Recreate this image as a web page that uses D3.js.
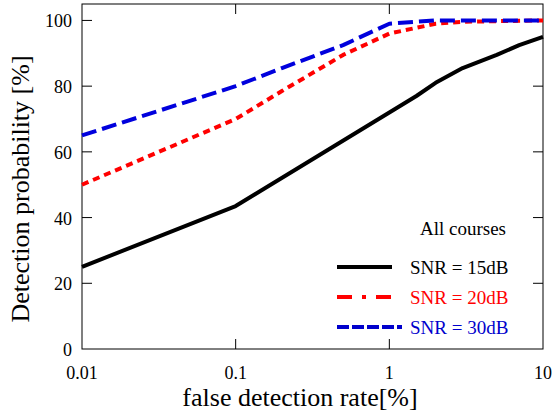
<!DOCTYPE html>
<html>
<head>
<meta charset="utf-8">
<script src="https://cdn.jsdelivr.net/npm/d3@7"></script>
<style>
  body { margin: 0; background: #fff; }
</style>
</head>
<body>
<svg id="chart" width="552" height="416" font-family="Liberation Serif, Times New Roman, serif"></svg>
<script>
// data
const rate15 = [0.01, 0.1, 1, 1.5, 2, 3, 5, 7, 10];
const snr15 = [25, 43.5, 72, 77, 81, 85.5, 89.5, 92.5, 95];
const rate20 = [0.01, 0.1, 0.2, 0.5, 1, 2, 3, 10];
const snr20 = [50, 70, 78.5, 89.5, 96, 99, 99.6, 100];
const rate30 = [0.01, 0.1, 0.2, 0.5, 1, 2, 10];
const snr30 = [65, 80, 85.5, 92.5, 99, 100, 100];
const xTicks = [0.01, 0.1, 1, 10];
const yTicks = [0, 20, 40, 60, 80, 100];
const seriesNames = ["SNR = 15dB", "SNR = 20dB", "SNR = 30dB"];

const pLeft = 82, pRight = 543, pTop = 4, pBottom = 349;
const svg = d3.select("#chart");

const x = d3.scaleLog().domain([0.01, 10]).range([pLeft, pRight]);
const y = d3.scaleLinear().domain([0, 105]).range([pBottom, pTop]);

// frame
svg.append("rect")
  .attr("x", pLeft).attr("y", pTop)
  .attr("width", pRight - pLeft).attr("height", pBottom - pTop)
  .attr("fill", "none").attr("stroke", "#000").attr("stroke-width", 1);

// inward ticks
const tl = 10;
const inner = xTicks.slice(1, -1);
svg.selectAll(".xtb").data(inner).enter().append("line")
  .attr("x1", d => x(d)).attr("x2", d => x(d))
  .attr("y1", pBottom).attr("y2", pBottom - tl).attr("stroke", "#000");
svg.selectAll(".xtt").data(inner).enter().append("line")
  .attr("x1", d => x(d)).attr("x2", d => x(d))
  .attr("y1", pTop).attr("y2", pTop + tl).attr("stroke", "#000");
svg.selectAll(".ytl").data(yTicks.slice(1)).enter().append("line")
  .attr("x1", pLeft).attr("x2", pLeft + tl)
  .attr("y1", d => y(d)).attr("y2", d => y(d)).attr("stroke", "#000");
svg.selectAll(".ytr").data(yTicks.slice(1)).enter().append("line")
  .attr("x1", pRight).attr("x2", pRight - tl)
  .attr("y1", d => y(d)).attr("y2", d => y(d)).attr("stroke", "#000");

// tick labels
svg.selectAll(".xl").data(xTicks).enter().append("text")
  .attr("x", d => x(d)).attr("y", 379)
  .attr("text-anchor", "middle").attr("font-size", 18)
  .text(d => d);
svg.selectAll(".yl").data(yTicks).enter().append("text")
  .attr("x", 72).attr("y", d => y(d) + 7)
  .attr("text-anchor", "end").attr("font-size", 18)
  .text(d => d);

// axis titles
svg.append("text")
  .attr("x", 300).attr("y", 406)
  .attr("text-anchor", "middle").attr("font-size", 26)
  .text("false detection rate[%]");
svg.append("text")
  .attr("transform", "translate(29,189) rotate(-90)")
  .attr("text-anchor", "middle").attr("font-size", 26)
  .text("Detection probability [%]");

// lines
const line = d3.line().x(d => x(d[0])).y(d => y(d[1]));
const plot = [
  { xs: rate15, ys: snr15, color: "#000", dash: null },
  { xs: rate20, ys: snr20, color: "#ff0000", dash: "7,5" },
  { xs: rate30, ys: snr30, color: "#0000dd", dash: "15,6" }
];
plot.forEach(s => {
  svg.append("path")
    .datum(d3.zip(s.xs, s.ys))
    .attr("d", line)
    .attr("fill", "none")
    .attr("stroke", s.color)
    .attr("stroke-width", 4)
    .attr("stroke-linejoin", "round")
    .attr("stroke-dasharray", s.dash);
});

// legend
svg.append("text").attr("x", 463).attr("y", 235)
  .attr("text-anchor", "middle").attr("font-size", 19)
  .text("All courses");
const legDash = [null, "15,10,4,10,15", "12,3"];
const legEnd = [392, 392, 402];
const legColor = ["#000", "#ff0000", "#0000cc"];
seriesNames.forEach((name, i) => {
  const ly = 267 + i * 30;
  svg.append("line")
    .attr("x1", 337).attr("x2", legEnd[i])
    .attr("y1", ly).attr("y2", ly)
    .attr("stroke", legColor[i]).attr("stroke-width", 4)
    .attr("stroke-dasharray", legDash[i]);
  svg.append("text").attr("x", 410).attr("y", ly + 7)
    .attr("font-size", 19).attr("fill", legColor[i])
    .text(name);
});
</script>
</body>
</html>
